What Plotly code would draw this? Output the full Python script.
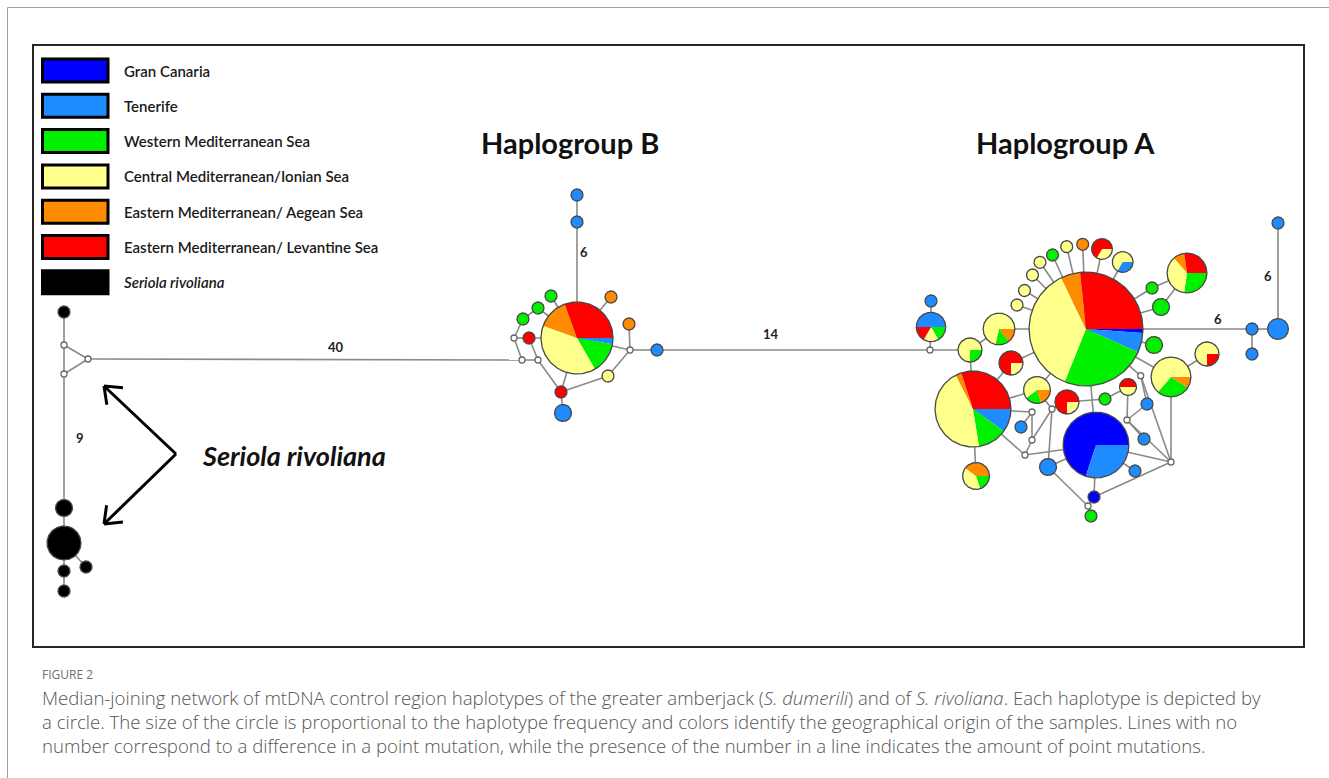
import numpy as np
import plotly.graph_objects as go

# ---------------------------------------------------------------- categories
CAT_KEYS = ["GC", "TF", "WM", "CM", "AE", "LE", "SR"]
CAT_NAMES = ["Gran Canaria", "Tenerife", "Western Mediterranean Sea",
             "Central Mediterranean/Ionian Sea",
             "Eastern Mediterranean/ Aegean Sea",
             "Eastern Mediterranean/ Levantine Sea",
             "<i>Seriola rivoliana</i>"]
CAT_COLORS = ["#0000ff", "#1e8cff", "#00f000", "#ffff8c",
              "#ff8c00", "#ff0000", "#000000"]

# ---------------------------------------------------------------- haplotypes
# layout position of each haplotype and its sample counts per origin
# (slices listed counter-clockwise starting at 3 o'clock)
HAP_ID = [
    # Seriola rivoliana
    "s1", "s2", "s3", "s4", "s5", "s6",
    # Haplogroup B
    "b0", "b1", "b2", "b3", "b4", "b5", "b6", "b7", "b8", "b9", "b10", "b11", "b12",
    # Haplogroup A
    "a0", "a1", "a2", "a3", "a4", "a5", "a6", "a7",
    "a8", "a9", "a10", "a11", "a12", "a13", "a14", "a15", "a16",
    "a17", "a18", "a19", "a20", "a21", "a22", "a23", "a24", "a25", "a26",
    "a27", "a28", "a29", "a30", "a31", "a32", "a33", "a34", "a35", "a36", "a37", "a38",
]
HAP_X = [
    64, 64, 64, 64, 86, 64,
    577, 577, 577, 551, 538, 523, 611, 629, 529, 657, 608, 561, 563,
    1086, 931, 931, 970, 999, 1011, 973, 976,
    1017, 1024.5, 1032.5, 1040, 1052.5, 1066.7, 1082.7, 1102, 1122.7,
    1152, 1161, 1187, 1154, 1171, 1207, 1252, 1252, 1278, 1278,
    1037, 1067, 1105, 1128, 1096, 1094, 1091, 1048, 1135, 1021, 1147, 1144,
]
HAP_Y = [
    312, 508, 543, 571, 567, 591,
    338, 195, 222, 296, 308, 319, 297, 324, 338, 350, 376, 392, 413,
    329, 327, 301, 350, 329, 363, 409, 476,
    305, 290.5, 275, 262.3, 255, 246.7, 244.3, 249, 262,
    288, 307, 273, 345, 377, 354, 329, 354, 329, 223,
    390, 402, 399, 387, 445, 497, 516, 467, 471, 427, 404, 439,
]
HAP_MIX = [
    [("SR", 1)], [("SR", 2)], [("SR", 8)], [("SR", 1)], [("SR", 1)], [("SR", 1)],
    [("LE", 11), ("AE", 5), ("CM", 14), ("WM", 5), ("TF", 1)],
    [("TF", 1)], [("TF", 1)], [("WM", 1)], [("WM", 1)], [("WM", 1)],
    [("AE", 1)], [("AE", 1)], [("LE", 1)], [("TF", 1)], [("CM", 1)],
    [("LE", 1)], [("TF", 2)],
    [("LE", 24), ("AE", 5), ("CM", 33), ("WM", 22), ("TF", 5), ("GC", 1)],
    [("TF", 3), ("LE", 1), ("CM", 1), ("WM", 1)],
    [("TF", 1)],
    [("CM", 3), ("WM", 1)],
    [("CM", 5), ("WM", 1), ("AE", 1)],
    [("LE", 3), ("CM", 1)],
    [("LE", 12), ("AE", 1), ("CM", 18), ("WM", 5), ("TF", 4)],
    [("AE", 2), ("CM", 2), ("WM", 1)],
    [("CM", 1)], [("CM", 1)], [("CM", 1)], [("CM", 1)], [("WM", 1)],
    [("CM", 1)], [("AE", 1)],
    [("LE", 2), ("CM", 1)],
    [("CM", 2), ("TF", 1)],
    [("WM", 1)], [("WM", 2)],
    [("LE", 3), ("AE", 1), ("CM", 4), ("WM", 3)],
    [("WM", 2)],
    [("CM", 7), ("WM", 3), ("AE", 1)],
    [("CM", 3), ("LE", 1)],
    [("TF", 1)], [("TF", 1)], [("TF", 3)], [("TF", 1)],
    [("CM", 3), ("WM", 1), ("AE", 1)],
    [("LE", 3), ("CM", 1)],
    [("WM", 1)],
    [("LE", 1), ("CM", 1)],
    [("GC", 21), ("TF", 9)],
    [("GC", 1)], [("WM", 1)], [("TF", 2)], [("TF", 1)], [("TF", 1)],
    [("TF", 1)], [("TF", 1)],
]

# ---------------------------------------------------------- median vectors
MED_ID = ["ms1", "ms2", "ms3", "mb1", "mb2", "mb3", "mb4",
          "ma1", "ma2", "ma3", "ma4", "ma5", "ma6", "ma7", "ma8", "ma9"]
MED_X = [64, 64, 88, 514, 522, 538, 630,
         930, 1032, 1032, 1025, 1052, 1088, 1171, 1127, 1140.7]
MED_Y = [345, 374, 359, 338, 360, 360, 350,
         350, 412, 440, 455, 409, 506, 462, 420, 375.7]

# ---------------------------------------------------------------- links
EDGE_FROM = [
    "s1", "ms1", "ms1", "ms2", "ms2", "s2", "s3", "s3", "s4", "ms3",
    "b1", "b2", "b3", "b4", "b5", "b5", "mb1", "b8", "mb1", "mb2", "b8", "mb3",
    "b11", "b11", "b11", "b10", "mb4", "mb4", "mb4", "b6", "b9",
    "ma1", "a1", "ma1", "a3", "a4", "a3",
    "a0", "a0", "a0", "a0", "a0", "a0", "a0", "a0", "a0",
    "a0", "a0", "a17", "a18", "a0", "a0", "a21", "a0", "a23", "a23", "a25",
    "a6", "a5", "a5", "a6", "ma2", "ma3", "ma3", "ma4", "ma4", "ma2",
    "a6", "a27", "ma5", "ma5", "ma5", "a28", "a29",
    "a0", "a31", "a32", "ma6", "ma6", "a31", "a31", "a31", "a32",
    "ma7", "ma7", "ma7", "ma8", "ma8", "ma8", "ma9", "ma9",
]
EDGE_TO = [
    "ms1", "ms2", "ms3", "ms3", "s2", "s3", "s4", "s5", "s6", "mb2",
    "b2", "b0", "b0", "b0", "b4", "mb1", "b8", "b0", "mb2", "mb3", "mb3", "b11",
    "b0", "b10", "b12", "mb4", "b0", "b7", "b9", "b0", "ma1",
    "a1", "a2", "a3", "a4", "a0", "a6",
    "a8", "a9", "a10", "a11", "a12", "a13", "a14", "a15", "a16",
    "a17", "a18", "a19", "a19", "a20", "a21", "a22", "a23", "a25", "a24", "a26",
    "a7", "a0", "a6", "ma2", "ma3", "ma5", "ma4", "a6", "a31", "a36",
    "a27", "a0", "a28", "a27", "a34", "a29", "a30",
    "a31", "a32", "ma6", "a33", "a34", "a34", "a35", "ma7", "ma7",
    "a21", "ma8", "ma9", "a30", "a37", "a38", "a37", "a0",
]
# number of mutational steps on the long links (all others are one step)
EDGE_STEPS = {("ms3", "mb2"): 40, ("b9", "ma1"): 14, ("b2", "b0"): 6,
              ("a0", "a23"): 6, ("a25", "a26"): 6, ("ms2", "s2"): 9}

# ------------------------------------------------------------ drawing setup
W, H = 1329, 778
R_UNIT = 6.0            # radius of a single-sample haplotype
FONT = "Lato, 'Open Sans', sans-serif"
EDGE_COLOR = "#8a8a8a"
OUTLINE = "#474747"

color_of = dict(zip(CAT_KEYS, CAT_COLORS))
pos = {}
for i, hid in enumerate(HAP_ID):
    pos[hid] = (HAP_X[i], HAP_Y[i])
for i, mid in enumerate(MED_ID):
    pos[mid] = (MED_X[i], MED_Y[i])

fig = go.Figure()

# links
ex, ey = [], []
for a, b in zip(EDGE_FROM, EDGE_TO):
    ex += [pos[a][0], pos[b][0], None]
    ey += [pos[a][1], pos[b][1], None]
fig.add_trace(go.Scatter(x=ex, y=ey, mode="lines", hoverinfo="skip",
                         line=dict(color=EDGE_COLOR, width=1.6)))

# pie slices grouped by origin
slice_x = {k: [] for k in CAT_KEYS}
slice_y = {k: [] for k in CAT_KEYS}
ring_x, ring_y = [], []
for hid, mix in zip(HAP_ID, HAP_MIX):
    cx, cy = pos[hid]
    total = sum(c for _, c in mix)
    r = R_UNIT * np.sqrt(total)
    start = 0.0
    for key, cnt in mix:
        span = 2 * np.pi * cnt / total
        n = max(int(180 * span / (2 * np.pi)) + 2, 4)
        th = np.linspace(start, start + span, n)
        px = list(cx + r * np.cos(th))
        py = list(cy - r * np.sin(th))
        if len(mix) > 1:
            px = [cx] + px + [cx]
            py = [cy] + py + [cy]
        slice_x[key] += px + [None]
        slice_y[key] += py + [None]
        start += span
    th = np.linspace(0, 2 * np.pi, 181)
    ring_x += list(cx + r * np.cos(th)) + [None]
    ring_y += list(cy - r * np.sin(th)) + [None]

for key in CAT_KEYS:
    if slice_x[key]:
        fig.add_trace(go.Scatter(x=slice_x[key], y=slice_y[key], mode="lines",
                                 fill="toself", fillcolor=color_of[key],
                                 line=dict(width=0, color=color_of[key]),
                                 hoverinfo="skip"))
fig.add_trace(go.Scatter(x=ring_x, y=ring_y, mode="lines", hoverinfo="skip",
                         line=dict(color=OUTLINE, width=1.3)))

# median vectors
fig.add_trace(go.Scatter(x=MED_X, y=MED_Y, mode="markers", hoverinfo="skip",
                         marker=dict(size=6, color="white",
                                     line=dict(color="#666666", width=1.3))))

# step labels on long links: (fraction along link, dx, dy)
STEP_LABEL_PLACE = {("ms3", "mb2"): (0.571, 0, -13), ("b9", "ma1"): (0.418, 0, -16),
                    ("b2", "b0"): (0.259, 7, 0), ("a0", "a23"): (0.795, 0, -10),
                    ("a25", "a26"): (0.5, -10, 0), ("ms2", "s2"): (0.478, 16, 0)}
annotations = []
for (a, b), steps in EDGE_STEPS.items():
    t, dx, dy = STEP_LABEL_PLACE[(a, b)]
    lx = pos[a][0] + t * (pos[b][0] - pos[a][0]) + dx
    ly = pos[a][1] + t * (pos[b][1] - pos[a][1]) + dy
    annotations.append(dict(x=lx, y=ly, text=f"<b>{steps}</b>", showarrow=False,
                            font=dict(family=FONT, size=13, color="#222222"),
                            xanchor="center", yanchor="middle"))

# group titles
for text, gx in (("Haplogroup B", 570), ("Haplogroup A", 1065)):
    annotations.append(dict(x=gx, y=142, text=f"<b>{text}</b>", showarrow=False,
                            font=dict(family=FONT, size=29, color="#111111"),
                            xanchor="center", yanchor="middle"))
annotations.append(dict(x=294, y=455, text="<b><i>Seriola rivoliana</i></b>",
                        showarrow=False, font=dict(family=FONT, size=27, color="#111111"),
                        xanchor="center", yanchor="middle"))

# arrows pointing at the S. rivoliana haplotypes
ARROW_BASE = (176, 454)
ARROW_TIPS = [(104, 386), (104, 524)]
ax_, ay_ = [], []
for tx, ty in ARROW_TIPS:
    ax_ += [ARROW_BASE[0], tx, None]
    ay_ += [ARROW_BASE[1], ty, None]
    d = np.array([ARROW_BASE[0] - tx, ARROW_BASE[1] - ty], float)
    d /= np.linalg.norm(d)
    for ang in (np.radians(38), -np.radians(38)):
        rot = np.array([[np.cos(ang), -np.sin(ang)], [np.sin(ang), np.cos(ang)]])
        e = rot @ d * 19
        ax_ += [tx, tx + e[0], None]
        ay_ += [ty, ty + e[1], None]
fig.add_trace(go.Scatter(x=ax_, y=ay_, mode="lines", hoverinfo="skip",
                         line=dict(color="#000000", width=3)))

# legend boxes
shapes = []
for i, (name, col) in enumerate(zip(CAT_NAMES, CAT_COLORS)):
    yc = 70.5 + i * 35.3
    shapes.append(dict(type="rect", xref="x", yref="y", x0=42.5, x1=108, y0=yc - 11.5,
                       y1=yc + 11.5, fillcolor=col, line=dict(color="#000000", width=3)))
    annotations.append(dict(x=122, y=yc, text=name, showarrow=False,
                            font=dict(family=FONT, size=15, color="#1a1a1a", weight=600),
                            xanchor="left", yanchor="middle"))

# frames
shapes.append(dict(type="rect", xref="x", yref="y", x0=33, x1=1304, y0=45, y1=647,
                   line=dict(color="#262626", width=2), fillcolor="rgba(0,0,0,0)"))
shapes.append(dict(type="line", xref="x", yref="y", x0=7.5, x1=1329, y0=7.5, y1=7.5,
                   line=dict(color="#a0a0a0", width=1)))
shapes.append(dict(type="line", xref="x", yref="y", x0=7.5, x1=7.5, y0=7.5, y1=778,
                   line=dict(color="#a0a0a0", width=1)))

# caption
CAPTION_TITLE = "FIGURE 2"
CAPTION_LINES = [
    "Median-joining network of mtDNA control region haplotypes of the greater amberjack "
    "(<i>S. dumerili</i>) and of <i>S. rivoliana</i>. Each haplotype is depicted by",
    "a circle. The size of the circle is proportional to the haplotype frequency and colors "
    "identify the geographical origin of the samples. Lines with no",
    "number correspond to a difference in a point mutation, while the presence of the number "
    "in a line indicates the amount of point mutations.",
]
CAP_FONT = "'Open Sans', sans-serif"
annotations.append(dict(x=40, y=674.5, text=CAPTION_TITLE, showarrow=False,
                        font=dict(family=CAP_FONT, size=12, color="#6e6e6e"),
                        xanchor="left", yanchor="middle"))
annotations.append(dict(x=40, y=682.5, text="<br>".join(CAPTION_LINES), showarrow=False,
                        font=dict(family=CAP_FONT, size=18.6, color="#555555",
                                  weight=300),
                        align="left", xanchor="left", yanchor="top"))

fig.update_layout(
    width=W, height=H, margin=dict(l=0, r=0, t=0, b=0),
    paper_bgcolor="white", plot_bgcolor="white", showlegend=False,
    xaxis=dict(range=[0, W], visible=False, fixedrange=True),
    yaxis=dict(range=[H, 0], visible=False, fixedrange=True),
    shapes=shapes, annotations=annotations,
)
fig.write_html("out.html")
